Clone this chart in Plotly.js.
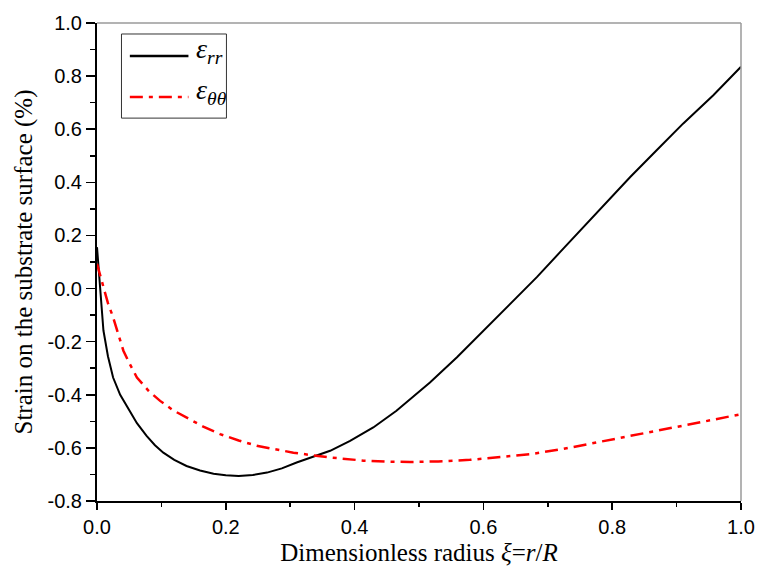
<!DOCTYPE html>
<html>
<head>
<meta charset="utf-8">
<script src="https://cdn.plot.ly/plotly-3.0.1.min.js"></script>
<style>html,body{margin:0;padding:0;background:#fff;}#chart{width:760px;height:571px;}</style>
</head>
<body>
<div id="chart"></div>
<script>
// ---- Data ----
var xRR = [0, 0.005, 0.01, 0.017, 0.025, 0.036, 0.049, 0.062, 0.077, 0.09, 0.103, 0.12, 0.139, 0.16, 0.181, 0.2, 0.22, 0.242, 0.264, 0.287, 0.31, 0.341, 0.362, 0.393, 0.429, 0.465, 0.517, 0.559, 0.6, 0.641, 0.683, 0.719, 0.755, 0.791, 0.828, 0.869, 0.91, 0.957, 1.0];
var yRR = [0.156, -0.02, -0.158, -0.255, -0.335, -0.400, -0.454, -0.507, -0.555, -0.590, -0.618, -0.645, -0.668, -0.685, -0.697, -0.703, -0.706, -0.702, -0.693, -0.677, -0.655, -0.630, -0.611, -0.574, -0.523, -0.460, -0.354, -0.259, -0.158, -0.058, 0.043, 0.137, 0.231, 0.326, 0.420, 0.521, 0.621, 0.728, 0.835];

var xTT = [0, 0.01, 0.017, 0.025, 0.033, 0.041, 0.05, 0.062, 0.08, 0.098, 0.118, 0.139, 0.165, 0.191, 0.22, 0.248, 0.276, 0.305, 0.335, 0.362, 0.414, 0.45, 0.486, 0.53, 0.579, 0.625, 0.672, 0.724, 0.776, 0.828, 0.879, 0.94, 1.0];
var yTT = [0.093, 0.0, -0.055, -0.108, -0.17, -0.234, -0.28, -0.335, -0.385, -0.423, -0.458, -0.486, -0.52, -0.548, -0.572, -0.592, -0.606, -0.618, -0.628, -0.636, -0.648, -0.652, -0.653, -0.651, -0.645, -0.636, -0.624, -0.604, -0.58, -0.556, -0.53, -0.502, -0.473];

var xTickVals = [0, 0.2, 0.4, 0.6, 0.8, 1.0];
var xTickText = ['0.0', '0.2', '0.4', '0.6', '0.8', '1.0'];
var yTickVals = [-0.8, -0.6, -0.4, -0.2, 0, 0.2, 0.4, 0.6, 0.8, 1.0];
var yTickText = ['-0.8', '-0.6', '-0.4', '-0.2', '0.0', '0.2', '0.4', '0.6', '0.8', '1.0'];

var nameRR = '<i>ε</i><sub><i>rr</i></sub>';
var nameTT = '<i>ε</i><sub><i>θθ</i></sub>';
var xTitle = 'Dimensionless radius <i>ξ</i>=<i>r</i>/<i>R</i>';
var yTitle = 'Strain on the substrate surface (%)';

// ---- Styles ----
var black = '#000000', red = '#ff0000';
var redDash = '13px,6px,4px,6px';
var serif = 'Liberation Serif';
var sans = 'Liberation Sans';

var traces = [
  {x: xRR, y: yRR, name: nameRR, mode: 'lines', type: 'scatter', showlegend: false,
   line: {color: black, width: 2}},
  {x: xTT, y: yTT, name: nameTT, mode: 'lines', type: 'scatter', showlegend: false,
   line: {color: red, width: 2.5, dash: redDash}}
];

var tickFont = {family: sans, size: 20, color: '#000'};
var titleFont = {family: serif, size: 25, color: '#000'};

// legend box geometry (paper coords)
var lgX0 = 0.038, lgX1 = 0.201, lgY0 = 0.801, lgY1 = 0.977;
var lgLineX0 = 0.051, lgLineX1 = 0.142, lgTextX = 0.150;
var lgRowY = [0.931, 0.845];

var layout = {
  width: 760, height: 571,
  margin: {l: 97, r: 19, t: 23, b: 70},
  paper_bgcolor: '#fff', plot_bgcolor: '#fff',
  showlegend: false,
  xaxis: {
    range: [0, 1], tickmode: 'array', tickvals: xTickVals, ticktext: xTickText,
    ticks: 'outside', ticklen: 7, tickwidth: 1.5, tickcolor: '#000',
    minor: {dtick: 0.1, tick0: 0, ticks: 'outside', ticklen: 4, tickwidth: 1.5, tickcolor: '#000'},
    showline: true, linecolor: '#000', linewidth: 2,
    showgrid: false, zeroline: false,
    tickfont: tickFont,
    automargin: false,
    title: {text: xTitle, font: titleFont, standoff: 6}
  },
  yaxis: {
    range: [-0.8, 1.0], tickmode: 'array', tickvals: yTickVals, ticktext: yTickText,
    ticks: 'outside', ticklen: 9, tickwidth: 1.5, tickcolor: '#000',
    minor: {dtick: 0.1, tick0: 0, ticks: 'outside', ticklen: 5, tickwidth: 1.5, tickcolor: '#000'},
    showline: true, linecolor: '#000', linewidth: 2,
    showgrid: false, zeroline: false,
    tickfont: tickFont,
    automargin: false,
    title: {text: yTitle, font: titleFont, standoff: 8}
  },
  shapes: [
    {type: 'line', xref: 'paper', yref: 'paper', x0: 0, x1: 1, y0: 1, y1: 1, line: {color: '#9a9a9a', width: 1.5}},
    {type: 'line', xref: 'paper', yref: 'paper', x0: 1, x1: 1, y0: 0, y1: 1, line: {color: '#9a9a9a', width: 1.5}},
    {type: 'rect', xref: 'paper', yref: 'paper', x0: lgX0, x1: lgX1, y0: lgY0, y1: lgY1,
     line: {color: '#333', width: 1}, fillcolor: '#fff'},
    {type: 'line', xref: 'paper', yref: 'paper', x0: lgLineX0, x1: lgLineX1, y0: lgRowY[0], y1: lgRowY[0],
     line: {color: black, width: 2.5}},
    {type: 'line', xref: 'paper', yref: 'paper', x0: lgLineX0, x1: lgLineX1, y0: lgRowY[1], y1: lgRowY[1],
     line: {color: red, width: 2.5, dash: redDash}}
  ],
  annotations: [
    {xref: 'paper', yref: 'paper', x: lgTextX, y: lgRowY[0] + 0.012, xanchor: 'left', yanchor: 'middle',
     text: nameRR, showarrow: false, font: {family: serif, size: 28, color: '#000'}},
    {xref: 'paper', yref: 'paper', x: lgTextX, y: lgRowY[1] + 0.012, xanchor: 'left', yanchor: 'middle',
     text: nameTT, showarrow: false, font: {family: serif, size: 28, color: '#000'}}
  ]
};

Plotly.newPlot('chart', traces, layout, {displayModeBar: false, staticPlot: true});
</script>
</body>
</html>
